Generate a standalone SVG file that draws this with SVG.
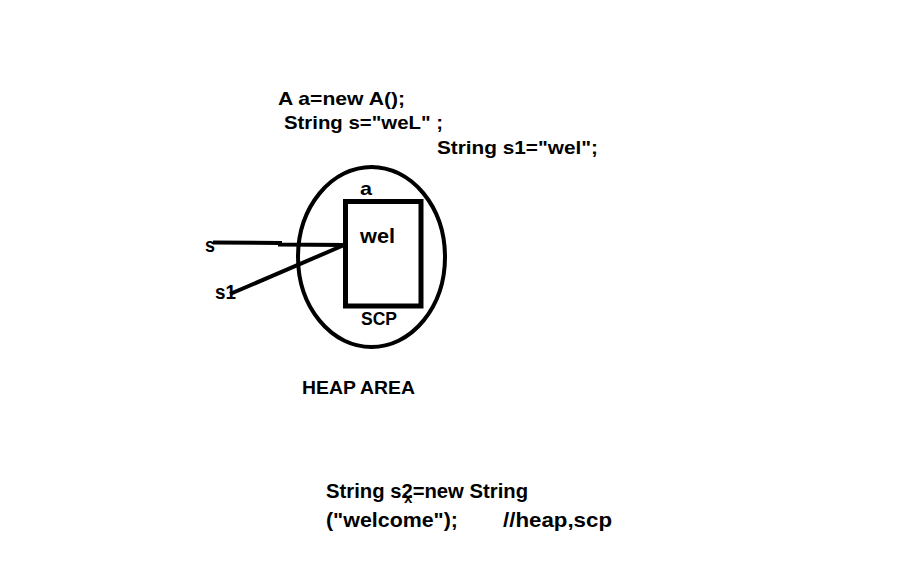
<svg xmlns="http://www.w3.org/2000/svg" width="911" height="564" viewBox="0 0 911 564">
<style>
text{font-family:"Liberation Sans",Arial,sans-serif;font-weight:bold;fill:#000}
.code{font-size:19px}
.big{font-size:20px}
.ln{stroke:#000;stroke-width:4;fill:none;stroke-linecap:butt}
</style>
<rect width="911" height="564" fill="#fff"/>
<g id="code">
<text class="code" x="278" y="105" textLength="127" lengthAdjust="spacingAndGlyphs">A a=new A();</text>
<text class="code" x="284" y="129" textLength="159" lengthAdjust="spacingAndGlyphs">String s="weL" ;</text>
<text class="code" x="437" y="154" textLength="161" lengthAdjust="spacingAndGlyphs">String s1="wel";</text>
</g>
<g id="heap">
<ellipse cx="371.5" cy="257" rx="73.5" ry="90" fill="none" stroke="#000" stroke-width="4"/>
<text class="code" x="302" y="394" textLength="113" lengthAdjust="spacingAndGlyphs">HEAP AREA</text>
</g>
<g id="scp">
<rect x="345.5" y="201.5" width="75.5" height="104.5" fill="none" stroke="#000" stroke-width="5"/>
<text class="code" x="360" y="195" textLength="12" lengthAdjust="spacingAndGlyphs">a</text>
<text class="big" x="360" y="243" textLength="35" lengthAdjust="spacingAndGlyphs">wel</text>
<text class="code" x="361" y="325" textLength="36" lengthAdjust="spacingAndGlyphs">SCP</text>
</g>
<g id="s">
<text class="big" x="205" y="252" textLength="10" lengthAdjust="spacingAndGlyphs">s</text>
</g>
<g id="s1">
<text class="big" x="215" y="299" textLength="21" lengthAdjust="spacingAndGlyphs">s1</text>
</g>
<g id="connectors">
<path class="ln" d="M213 242.5 L280 243 L280 244.5 L345 245"/>
<path class="ln" d="M343 245.5 L230 294" stroke-width="5"/>
</g>
<g id="s2">
<text class="big" x="326" y="498" textLength="202" lengthAdjust="spacingAndGlyphs">String s2=new String</text>
<text x="404" y="503" font-size="15">x</text>
<text class="big" x="326" y="527" textLength="132" lengthAdjust="spacingAndGlyphs">("welcome");</text>
<text class="big" x="503" y="527" textLength="109" lengthAdjust="spacingAndGlyphs">//heap,scp</text>
</g>
</svg>
